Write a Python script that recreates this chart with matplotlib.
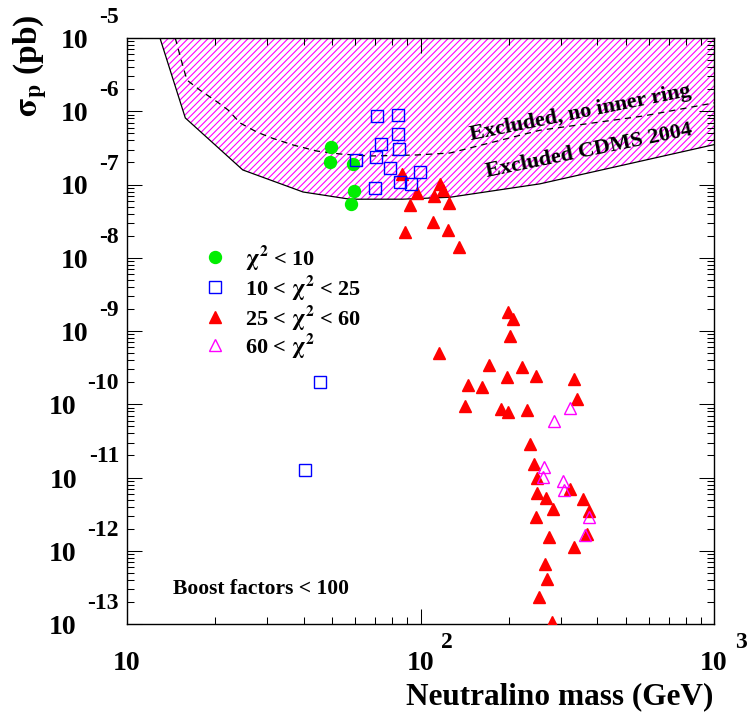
"""
Neutralino-proton cross section vs neutralino mass, with the CDMS 2004
exclusion region (hatched) and model points split by chi^2 class.
"""

import numpy as np
import matplotlib
matplotlib.use("Agg")
import matplotlib.pyplot as plt
from matplotlib.ticker import LogLocator, NullFormatter

plt.rcParams["font.family"] = ["Liberation Serif", "DejaVu Serif"]
plt.rcParams["font.weight"] = "bold"
plt.rcParams["mathtext.fontset"] = "stix"
plt.rcParams["mathtext.default"] = "bf"
plt.rcParams["hatch.color"] = "#ff00ff"
plt.rcParams["hatch.linewidth"] = 0.8

# --- exclusion curves (mass in GeV, sigma_p in pb) ---
cdms_mass = [12.95, 15.8, 24.8, 39.8, 57.5, 87.0, 126.0, 255.0, 1000.0]
cdms_sigma = [1e-5, 8.1e-7, 1.58e-7, 7.9e-8, 6.3e-8, 6.3e-8, 6.7e-8, 1.02e-7, 3.5e-7]

noring_mass = [14.6, 15.4, 16.0, 17.7, 20.3, 22.1, 24.3, 27.7, 31.2, 36.8,
               44.4, 53.2, 67.3, 97.0, 126.0, 255.0, 573.0, 1000.0]
noring_sigma = [1e-5, 4.56e-6, 2.67e-6, 1.95e-6, 1.34e-6, 1.04e-6, 6.9e-7, 5.2e-7,
                4.3e-7, 3.46e-7, 2.86e-7, 2.61e-7, 2.45e-7, 2.53e-7, 2.69e-7,
                5.5e-7, 8.6e-7, 1.3e-6]

# --- model points ---
green_mass = [49.6, 49.2, 58.9, 59.3, 58.0]
green_sigma = [3.25e-7, 2.03e-7, 1.90e-7, 8.15e-8, 5.42e-8]

blue_mass = [71.1, 83.8, 83.8, 73.3, 84.5, 60.3, 70.5, 78.7, 99.6, 85.2,
             92.8, 70.0, 45.5, 40.4]
blue_sigma = [8.6e-7, 8.9e-7, 4.89e-7, 3.57e-7, 3.05e-7, 2.16e-7, 2.37e-7,
              1.68e-7, 1.48e-7, 1.08e-7, 1.02e-7, 8.95e-8, 2.01e-10, 1.26e-11]

red_mass = [86.5, 97.3, 92.1, 88.6, 110.3, 111.2, 116.5, 119.3, 125.1, 124.1,
            135.3, 198.7, 206.7, 201.8, 115.6, 171.2, 221.8, 197.1, 247.4, 333.4,
            145.2, 162.0, 141.8, 188.1, 198.7, 230.7, 341.4, 236.1, 243.6, 249.4,
            249.4, 267.7, 282.8, 247.4, 323.2, 357.9, 375.1, 369.3, 333.4, 274.1,
            265.6, 269.8, 253.3, 280.5]
red_sigma = [1.39e-7, 7.66e-8, 5.25e-8, 2.25e-8, 3.08e-8, 6.97e-8, 1.02e-7, 8.41e-8,
             5.58e-8, 2.39e-8, 1.40e-8, 1.82e-9, 1.46e-9, 8.55e-10, 5.01e-10,
             3.44e-10, 3.23e-10, 2.36e-10, 2.43e-10, 2.21e-10, 1.83e-10, 1.72e-10,
             9.46e-11, 8.61e-11, 7.84e-11, 8.34e-11, 1.18e-10, 2.86e-11, 1.53e-11,
             9.84e-12, 6.14e-12, 5.25e-12, 3.71e-12, 2.89e-12, 6.97e-12, 5.08e-12,
             3.49e-12, 1.69e-12, 1.12e-12, 1.54e-12, 6.59e-13, 4.11e-13, 2.34e-13,
             1.06e-13]

pink_mass = [323.2, 285.0, 263.5, 261.5, 305.8, 308.2, 375.1, 363.5]
pink_sigma = [8.89e-11, 5.90e-11, 1.39e-11, 1.02e-11, 8.95e-12, 6.75e-12,
              2.89e-12, 1.64e-12]

x_ticks = [10, 100, 1000]
x_exps = ["", "2", "3"]
y_exps = list(range(-13, -4))

legend_labels = [r"$\chi^{2}$ < 10", r"10 < $\chi^{2}$ < 25",
                 r"25 < $\chi^{2}$ < 60", r"60 < $\chi^{2}$"]

GREEN = dict(marker="o", ms=8.6, color="#00ee00", mec="#00ee00", ls="none")
BLUE = dict(marker="s", ms=8.0, mfc="none", mec="#0000ff", mew=1.0, ls="none")
RED = dict(marker="^", ms=9.0, color="#ff0000", mec="#ff0000", ls="none")
PINK = dict(marker="^", ms=9.0, mfc="none", mec="#ff00ff", mew=1.0, ls="none")

W, H = 747, 717
fig = plt.figure(figsize=(W / 100, H / 100), dpi=100)
ax = fig.add_axes([127 / W, 1 - 624 / H, 587 / W, 586 / H])
ax.set_xscale("log")
ax.set_yscale("log")
ax.set_xlim(10, 1000)
ax.set_ylim(1e-13, 1e-5)

# exclusion region
ax.fill_between(cdms_mass, cdms_sigma, 1e-5, facecolor="none", edgecolor="#ff00ff",
                hatch="/////", linewidth=0, zorder=1)
ax.plot(cdms_mass, cdms_sigma, color="black", lw=0.9, zorder=2)
ax.plot(noring_mass, noring_sigma, color="black", lw=0.9, ls=(0, (5, 4)), zorder=2)

ax.text(352, 8.1e-7, "Excluded, no inner ring", fontsize=16, rotation=11.4,
        rotation_mode="anchor", ha="center", va="baseline")
ax.text(377, 2.45e-7, "Excluded CDMS 2004", fontsize=16, rotation=11.6,
        rotation_mode="anchor", ha="center", va="baseline")

# points
ax.plot(green_mass, green_sigma, zorder=3, **GREEN)
ax.plot(red_mass, red_sigma, zorder=3, **RED)
ax.plot(blue_mass, blue_sigma, zorder=4, **BLUE)
ax.plot(pink_mass, pink_sigma, zorder=4, **PINK)

# hand-placed legend (ROOT style, no frame)
leg_y = [0.626, 0.575, 0.524, 0.476]
for yy, lab, st in zip(leg_y, legend_labels, [GREEN, BLUE, RED, PINK]):
    ax.plot([0.150], [yy], transform=ax.transAxes, clip_on=False, **st)
    ax.text(0.201, yy - 0.0137, lab, transform=ax.transAxes, fontsize=16,
            ha="left", va="baseline")

ax.text(0.228, 0.060, "Boost factors < 100", transform=ax.transAxes,
        fontsize=15.5, ha="center", va="center")

# ticks: inside, all four sides, no default labels
ax.xaxis.set_major_locator(LogLocator(base=10, numticks=20))
ax.yaxis.set_major_locator(LogLocator(base=10, numticks=20))
for axis in (ax.xaxis, ax.yaxis):
    axis.set_minor_locator(LogLocator(base=10, subs=np.arange(2, 10), numticks=100))
    axis.set_minor_formatter(NullFormatter())
ax.tick_params(which="both", direction="in", top=True, right=True,
               labelbottom=False, labelleft=False, width=0.75)
ax.tick_params(which="major", length=10.8)
ax.tick_params(which="minor", length=5)
for sp in ax.spines.values():
    sp.set_linewidth(1.0)

# x tick labels: "10" plus raised exponent
for xv, ex in zip(x_ticks, x_exps):
    ten = ax.annotate("10", xy=(xv, 0), xycoords=("data", "axes fraction"),
                      xytext=(0, -46), textcoords="offset pixels",
                      ha="center", va="baseline", fontsize=20)
    if ex:
        ax.annotate(ex, xy=(1, 0), xycoords=ten, xytext=(7, 28),
                    textcoords="offset pixels", ha="left", va="baseline",
                    fontsize=17)

# y tick labels
for e in y_exps:
    sup = ax.annotate(f"-{abs(e)}", xy=(0, 10.0 ** e), xycoords=("axes fraction", "data"),
                      xytext=(-8, 15), textcoords="offset pixels",
                      ha="right", va="baseline", fontsize=17)
    ax.annotate("10", xy=(0, 0), xycoords=sup, xytext=(-11, -20),
                textcoords="offset pixels", ha="right", va="baseline", fontsize=20)

fig.text(713 / W, 1 - 697 / H, "Neutralino mass (GeV)", fontsize=22.5,
         ha="right", va="center")
fig.text(30 / W, 1 - 15 / H, r"$\sigma_{p}$ (pb)", fontsize=24, rotation=90,
         ha="center", va="top")

fig.savefig("out.png", dpi=100)
